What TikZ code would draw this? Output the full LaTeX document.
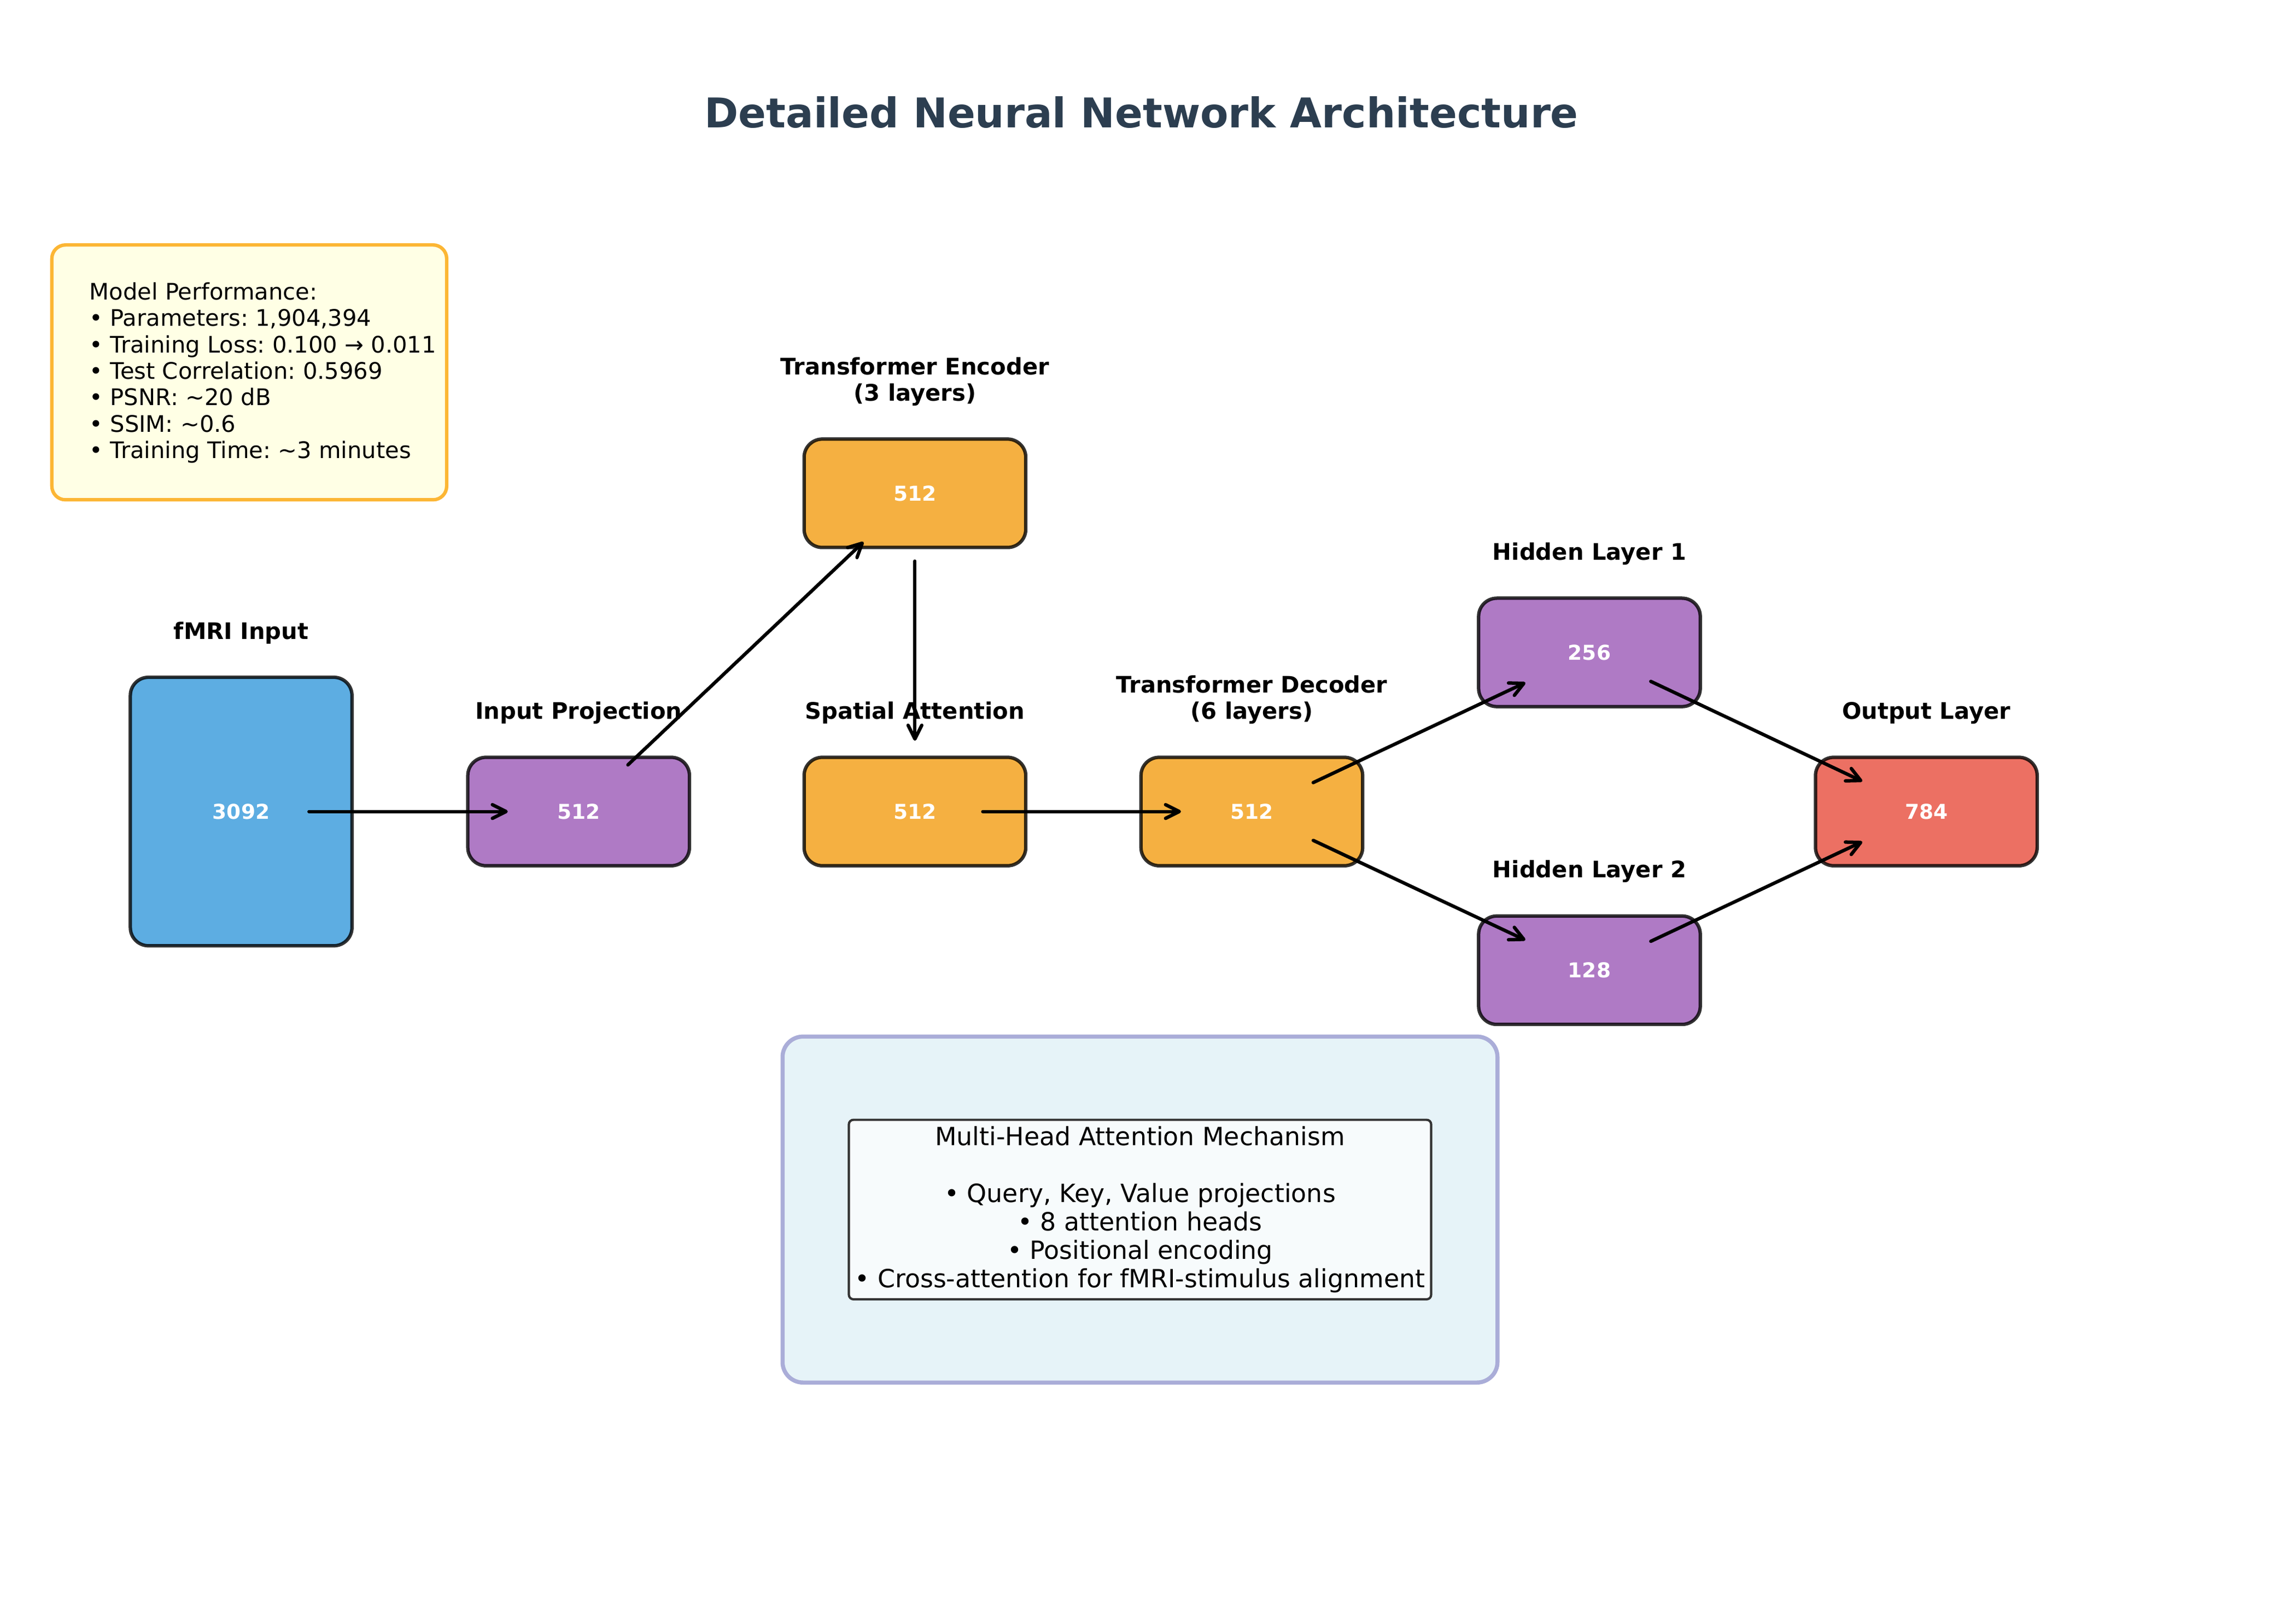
\documentclass[tikz,border=0pt]{standalone}
\usepackage{fontspec}
\setmainfont{DejaVu Sans}
\frenchspacing
\usetikzlibrary{arrows.meta,calc}
\definecolor{cblue}{HTML}{5DADE2}
\definecolor{cpurple}{HTML}{AF7AC5}
\definecolor{corange}{HTML}{F5B041}
\definecolor{cred}{HTML}{EC7063}
\definecolor{ctitle}{HTML}{2C3E50}
\definecolor{cperf}{HTML}{FFFFE5}
\definecolor{cperfedge}{RGB}{252,182,52}
\definecolor{cmech}{HTML}{E6F3F8}
\definecolor{cmechedge}{RGB}{170,173,216}
\definecolor{cinner}{HTML}{F7FBFC}
\definecolor{cinneredge}{HTML}{333333}
\begin{document}
\begin{tikzpicture}[x=0.64154pt,y=-0.64154pt,
  layer/.style={draw=black, draw opacity=0.8, line width=1.5pt, rounded corners=8pt,
    minimum width=97.3pt, minimum height=47.6pt, inner sep=0pt, text=white,
    font={\fontsize{9}{10.8}\selectfont\bfseries}},
  lbl/.style={anchor=south, inner sep=0pt, align=center,
    font={\fontsize{10}{11.5}\selectfont\bfseries}},
  conn/.style={-{Straight Barb[length=6pt,width=6pt,line cap=round,line join=round]},
    line width=1.5pt, line cap=round, shorten <=29.8pt, shorten >=31.1pt}]
\useasboundingbox (0,0) rectangle (1560,1111.1);

% title
\node[anchor=base, inner sep=0pt, text=ctitle, font={\fontsize{18}{21.6}\selectfont\bfseries}]
  (title) at (781,87.2) {Detailed Neural Network Architecture};

% performance box
\node[draw=cperfedge, fill=cperf, line width=1.5pt, rounded corners=6pt,
  minimum width=173.3pt, minimum height=111.9pt, inner sep=0pt] (perfbox) at (170.55,254.85) {};
\node[anchor=south west, inner sep=0pt, align=left, font={\fontsize{10}{11.6}\selectfont}]
  (perftext) at (61,317.2) {Model Performance:\\
• Parameters: 1,904,394\\
• Training Loss: 0.100 → 0.011\\
• Test Correlation: 0.5969\\
• PSNR: \textasciitilde20 dB\\
• SSIM: \textasciitilde0.6\\
• Training Time: \textasciitilde3 minutes};

% layers
\node[layer, fill=cblue, minimum height=117.9pt] (fmri) at (165,555.4) {3092};
\node[layer, fill=cpurple] (proj) at (395.9,555.4) {512};
\node[layer, fill=corange] (enc) at (626,337.6) {512};
\node[layer, fill=corange] (spat) at (626,555.4) {512};
\node[layer, fill=corange] (dec) at (856.5,555.4) {512};
\node[layer, fill=cpurple] (hid1) at (1087.5,446.5) {256};
\node[layer, fill=cpurple] (hid2) at (1087.5,664) {128};
\node[layer, fill=cred] (out) at (1318,555.4) {784};

% labels
\node[lbl] (fmril) at ($(fmri.north)+(0,-21.3)$) {fMRI Input};
\node[lbl] (projl) at ($(proj.north)+(0,-21.3)$) {Input Projection};
\node[lbl] (encl) at ($(enc.north)+(0,-21.3)$) {Transformer Encoder\\(3 layers)};
\node[lbl] (spatl) at ($(spat.north)+(0,-21.3)$) {Spatial Attention};
\node[lbl] (decl) at ($(dec.north)+(0,-21.3)$) {Transformer Decoder\\(6 layers)};
\node[lbl] (hid1l) at ($(hid1.north)+(0,-21.3)$) {Hidden Layer 1};
\node[lbl] (hid2l) at ($(hid2.north)+(0,-21.3)$) {Hidden Layer 2};
\node[lbl] (outl) at ($(out.north)+(0,-21.3)$) {Output Layer};

% connectors
\draw[conn] (fmri.center) -- (proj.center);
\draw[conn] (proj.center) -- (enc.center);
\draw[conn] (enc.center) -- (spat.center);
\draw[conn] (spat.center) -- (dec.center);
\draw[conn] (dec.center) -- (hid1.center);
\draw[conn] (dec.center) -- (hid2.center);
\draw[conn] (hid1.center) -- (out.center);
\draw[conn] (hid2.center) -- (out.center);

% attention mechanism panel
\node[draw=cmechedge, fill=cmech, line width=1.8pt, rounded corners=9pt,
  minimum width=313.8pt, minimum height=151.9pt, inner sep=0pt] (mechbox) at (780,827.8) {};
\node[draw=cinneredge, fill=cinner, line width=1pt, rounded corners=2pt,
  minimum width=255.6pt, minimum height=78.8pt, inner sep=0pt, align=center,
  font={\fontsize{11}{12.5}\selectfont}] (mech) at (780,827.8)
  {Multi-Head Attention Mechanism\\[12.5pt]
  • Query, Key, Value projections\\
  • 8 attention heads\\
  • Positional encoding\\
  • Cross-attention for fMRI-stimulus alignment};
\end{tikzpicture}
\end{document}
